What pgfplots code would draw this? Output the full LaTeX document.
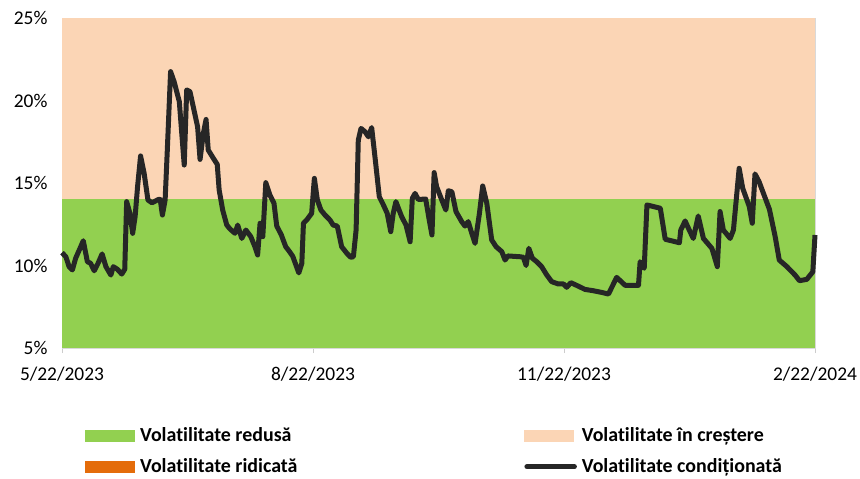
\documentclass[border=0pt]{standalone}
\usepackage{pgfplots}
\pgfplotsset{compat=1.18}
\usepackage{fontspec}
\setmainfont[Ligatures={NoCommon}]{Carlito}
\definecolor{greenC}{HTML}{92D050}
\definecolor{peachC}{HTML}{FBD5B5}
\definecolor{orangeC}{HTML}{E46C0A}
\definecolor{lineC}{HTML}{262626}
\pgfplotsset{
  swatch/.style={legend image code/.code={\fill[##1] (0bp,0bp) rectangle (50bp,11.6bp);}},
  lineswatch/.style={legend image code/.code={\draw[##1, line cap=round] (2.5bp,6bp) -- (50bp,6bp);}},
}
\begin{document}
\begin{tikzpicture}
\path[use as bounding box] (0bp,0bp) rectangle (860bp,479bp);
\begin{axis}[
  at={(62bp,131bp)}, anchor=south west,
  scale only axis, width=753bp, height=330bp,
  xmin=0, xmax=276, ymin=5, ymax=25,
  xtick={0,92,184,276},
  xticklabels={5/22/2023,8/22/2023,11/22/2023,2/22/2024},
  ytick={5,10,15,20,25},
  yticklabels={5\%,10\%,15\%,20\%,25\%},
  /pgf/number format/assume math mode=true,
  tick label style={font=\fontsize{19.5}{22}\selectfont, color=black},
  xticklabel style={yshift=-10bp},
  yticklabel style={xshift=-6bp},
  axis line style={draw=black!15, line width=0.8bp},
  tick align=outside,
  major tick length=5bp,
  xtick pos=bottom,
  ytick style={draw=none},
  xtick style={draw=black!20, line width=0.8bp},
  clip=false,
  legend columns=2,
  legend cell align=left,
  legend style={at={(axis description cs:0.0305,-0.241)}, anchor=north west,
    draw=none, fill=none, inner sep=0pt,
    font=\fontsize{20}{24}\selectfont\bfseries,
    nodes={inner sep=0pt, anchor=base west, text height=14bp, text depth=4bp},
    row sep=13bp,
    /tikz/every odd column/.style={column sep=5bp},
    /tikz/column 2/.style={column sep=227bp}},
]
\addplot[fill=greenC, draw=none, swatch] coordinates {(0,5) (276,5) (276,14) (0,14)} -- cycle;
\addlegendentry{Volatilitate redusă}
\addplot[fill=peachC, draw=none, swatch] coordinates {(0,14) (276,14) (276,25) (0,25)} -- cycle;
\addlegendentry{Volatilitate în creștere}
\addlegendimage{swatch, fill=orangeC, draw=none}
\addlegendentry{Volatilitate ridicată}
\addplot[color=lineC, line width=5bp, line join=round, lineswatch] coordinates {
(0,10.78) (1.4,10.53) (2.6,9.93) (3.8,9.73) (5.0,10.44) (6.6,11.04) (7.8,11.5)
(9.3,10.23) (10.5,10.13) (11.8,9.68) (13.2,10.13) (14.7,10.7) (16.1,9.93)
(17.9,9.42) (18.8,9.93) (20.3,9.77) (21.9,9.48) (23.0,9.77) (23.7,13.87)
(24.9,13.16) (25.9,11.95) (26.8,12.96) (27.7,14.78) (28.8,16.64) (30.1,15.59)
(31.5,13.97) (33.0,13.8) (35.3,14.0) (36.0,14.0) (36.8,13.06) (37.8,13.97)
(38.6,17.0) (39.8,21.75) (41.1,21.14) (43.0,19.93) (43.9,18.0) (44.8,16.09)
(45.7,20.64) (46.9,20.54) (48.1,19.63) (49.7,18.41) (50.6,16.43) (51.8,18.0)
(52.8,18.85) (53.6,17.0) (55.5,16.49) (56.9,16.13) (57.6,14.58) (58.9,13.36)
(60.4,12.45) (61.6,12.21) (63.4,11.95) (64.4,12.45) (65.9,11.64) (67.4,12.15)
(69.2,11.75) (70.7,11.14) (71.7,10.64) (72.6,12.56) (73.6,11.75) (74.7,15.02)
(76.2,14.27) (77.7,13.77) (78.7,12.4) (80.4,11.85) (82,11.14) (83.4,10.84)
(84.6,10.55) (85.8,10.0) (86.8,9.55) (87.9,10.13) (88.5,12.56) (89.7,12.76)
(91.5,13.16) (92.5,15.28) (93.6,13.97) (94.9,13.36) (96.4,13.06) (98.2,12.76)
(99.4,12.45) (100.9,12.39) (102.5,11.14) (104.4,10.74) (105.8,10.5) (106.8,10.53)
(107.8,12.15) (108.6,17.6) (109.6,18.31) (111.1,18.1) (112.3,17.8) (113.5,18.36)
(114.7,16.6) (116.3,14.17) (117.8,13.67) (119.2,13.16) (120.5,12.05) (121.4,13.16)
(122.4,13.87) (123.3,13.47) (124.5,12.96) (126.1,12.45) (127.6,11.44) (128.4,14.07)
(129.4,14.37) (130.6,14.0) (133.3,14.03) (134.6,12.76) (135.6,11.85) (136.4,15.63)
(137.3,14.78) (139.2,13.97) (140.7,13.36) (141.6,14.53) (142.9,14.47) (144.4,13.27)
(146.5,12.66) (147.7,12.39) (148.9,12.66) (150.2,11.95) (151.4,11.34) (153.0,13.16)
(154.2,14.82) (155.7,13.77) (157.5,11.55) (159.1,11.14) (161.2,10.84) (162.4,10.33)
(163.4,10.58) (167.9,10.53) (169.1,10.5) (170.1,10.0) (171.1,11.04) (172.4,10.44)
(174.0,10.23) (175.8,9.93) (177.7,9.42) (179.5,9.02) (181.9,8.88) (183.8,8.88)
(185.0,8.68) (186.5,8.96) (189.6,8.72) (191.7,8.55) (194.8,8.47) (197.8,8.37)
(200.3,8.27) (203.3,9.28) (206.4,8.8) (211.3,8.8) (211.9,10.23) (213.4,9.83)
(214.4,13.67) (219.3,13.47) (221.1,11.59) (226.3,11.38) (226.8,12.15) (228.4,12.7)
(229.9,12.15) (231.4,11.64) (233.2,13.0) (235.1,11.64) (238.2,11.04) (240.2,9.93)
(241.2,13.27) (242.4,12.15) (244.9,11.64) (246.1,12.15) (248.2,15.89) (249.5,14.68)
(251.9,13.58) (253.0,12.56) (254.0,15.55) (255.5,15.08) (257.1,14.37) (259.3,13.4)
(261.4,11.75) (262.9,10.33) (265.7,9.93) (267.5,9.62) (268.7,9.42) (270.3,9.08)
(273.0,9.16) (275.2,9.62) (276,11.85)
};
\addlegendentry{Volatilitate condiționată}
\end{axis}
\end{tikzpicture}
\end{document}
